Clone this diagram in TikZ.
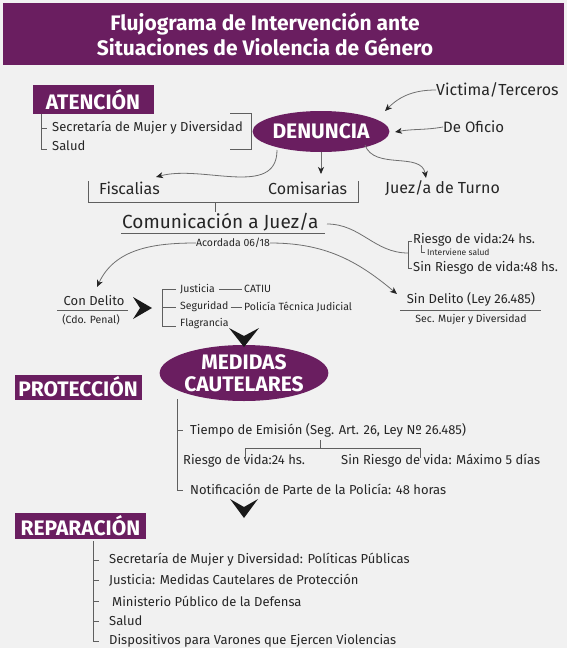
\documentclass[tikz,border=0pt]{standalone}
\usepackage{fontspec}
\setmainfont{Fira Sans}
\usetikzlibrary{arrows.meta,shapes.geometric,calc}
\definecolor{purp}{RGB}{106,30,96}
\definecolor{txt}{RGB}{38,38,38}
\definecolor{ln}{RGB}{95,95,95}
\definecolor{bg}{RGB}{241,241,241}
\begin{document}
\begin{tikzpicture}[x=1pt,y=-1pt,
  lbl/.style={inner sep=0pt, anchor=west, text=txt, font=\fontsize{13}{15}\selectfont},
  big/.style={lbl, font=\fontsize{16}{18}\selectfont},
  small/.style={lbl, font=\fontsize{10.5}{12}\selectfont},
  tag/.style={fill=purp, text=white, inner sep=0pt, font=\bfseries\fontsize{21}{23}\selectfont},
  oval/.style={ellipse, fill=purp, text=white, inner sep=0pt, align=center, font=\bfseries\fontsize{21}{22}\selectfont},
  br/.style={draw=ln, line width=0.9pt},
  conn/.style={draw=ln!90, line width=0.8pt, -{Stealth[length=7pt,width=6pt,inset=2pt,color=black!85]}},
  chev/.style={fill=black!90}
]
\useasboundingbox (0,0) rectangle (567,648);
\fill[bg] (0,0) rectangle (567,648);
% title
\fill[purp] (3,3) rectangle (564,65);
\node[text=white, align=center, font=\bfseries\fontsize{21}{25}\selectfont] (title) at (265,34) {Flujograma de Intervención ante\\Situaciones de Violencia de Género};

% ATENCION
\node[tag, minimum width=121pt, minimum height=29pt] (atn) at (93,99.5) {ATENCIÓN};
\node[lbl] (sec) at (52,128) {Secretaría de Mujer y Diversidad};
\node[lbl] (sal) at (52,146) {Salud};
\draw[br] (41,114) -- (41,149) -- (47,149);
\draw[br] (41,128) -- (47,128);
\draw[br] (230,113) -- (251,113) -- (251,149) -- (230,149);

% DENUNCIA
\node[oval, minimum width=118pt, minimum height=41pt] (den) at (321,131.5) {DENUNCIA};
\node[big] (vict) at (436,90) {Victima/Terceros};
\node[lbl, font=\fontsize{15}{17}\selectfont] (ofi) at (443,127) {De Oficio};
\draw[conn] (vict.west) to[out=180,in=45] (385,111);
\draw[conn] (ofi.west) to[out=190,in=10] (395,132);

\node[big] (fis) at (99,188) {Fiscalias};
\node[big] (com) at (268,188) {Comisarias};
\node[big] (juez) at (385,188) {Juez/a de Turno};
\draw[conn] (277,150) to[out=-90,in=15] (156,177);
\draw[conn] (den.south) -- (321,174);
\draw[conn] (365,145) to[out=-70,in=100] (426,178);

\draw[br] (88,181) -- (88,202) -- (358,202) -- (358,181);
\draw[br] (215,202) -- (215,212);

\node[lbl, font=\fontsize{19}{21}\selectfont] (comu) at (122,222) {Comunicación a Juez/a};
\draw[br] (121,233) -- (325,233);
\node[small, anchor=center] (acor) at (233,243) {Acordada 06/18};

% riesgo
\node[lbl] (r24) at (413,240) {Riesgo de vida:24 hs.};
\node[lbl, font=\fontsize{8.5}{10}\selectfont] (intv) at (427,252) {Interviene salud};
\node[lbl] (r48) at (413,268) {Sin Riesgo de vida:48 hs.};
\draw[br] (412,241) -- (408,241) -- (408,268) -- (412,268);
\draw[br, line width=0.6pt] (421,245) -- (421,252) -- (425,252);
\draw[draw=ln!90, line width=0.8pt] (327,224) to[out=0,in=180] (408,253);

% con delito
\node[lbl, anchor=center] (cond) at (94,301) {Con Delito};
\draw[br] (57,310) -- (128,310);
\node[small, anchor=center] (cdo) at (91,320) {(Cdo. Penal)};
\draw[conn] (acor.west) to[out=180,in=65] (97,287);
\fill[chev] (133,297) -- (152,308) -- (133,319) -- (140,308) -- cycle;
\draw[br] (176,289) -- (162,289) -- (162,326) -- (176,326);
\draw[br] (162,307) -- (176,307);
\node[small] (jus) at (180,289) {Justicia};
\node[small] (catiu) at (244,289) {CATIU};
\node[small] (seg) at (180,307) {Seguridad};
\node[small] (ptj) at (244,307) {Policía Técnica Judicial};
\node[small] (flag) at (180,324) {Flagrancia};
\draw[br] ($(jus.east)+(4,0)$) -- ($(catiu.west)+(-2,0)$);
\draw[br] ($(seg.east)+(2,0)$) -- ($(ptj.west)+(-2,0)$);

% sin delito
\node[lbl, anchor=center] (sind) at (471,299) {Sin Delito (Ley 26.485)};
\draw[br] (400,310) -- (541,310);
\node[small, anchor=center] (secm) at (471,320) {Sec. Mujer y Diversidad};
\draw[conn] (acor.east) to[out=0,in=140] (397,294);

% medidas
\node[oval, minimum width=158pt, minimum height=56pt, font=\bfseries\fontsize{21}{22}\selectfont] (med) at (244,373) {MEDIDAS\\CAUTELARES};
\fill[chev] (229,328) -- (244,336) -- (259,328) -- (244,347) -- cycle;
\node[tag, minimum width=127pt, minimum height=25pt] (prot) at (78,387) {PROTECCIÓN};
\draw[br] (177,399) -- (177,490) -- (183,490);
\draw[br] (177,430) -- (183,430);
\node[lbl] (tiem) at (190,430) {Tiempo de Emisión (Seg. Art. 26, Ley Nº 26.485)};
\draw[br] (320,440) -- (320,448);
\draw[br] (245,458) -- (245,448) -- (420,448) -- (420,458);
\node[lbl] (rv24) at (183,461) {Riesgo de vida:24 hs.};
\node[lbl] (srv) at (341,461) {Sin Riesgo de vida: Máximo 5 días};
\node[lbl] (noti) at (190,489) {Notificación de Parte de la Policía: 48 horas};
\fill[chev] (230,499) -- (244,507) -- (258,499) -- (244,518) -- cycle;

% reparacion
\node[tag, minimum width=131pt, minimum height=26pt] (rep) at (80.5,526) {REPARACIÓN};
\draw[br] (93,541) -- (93,641) -- (99,641);
\foreach \yy in {560,580,601,621} \draw[br] (93,\yy) -- (99,\yy);
\node[lbl] (r1) at (109,560) {Secretaría de Mujer y Diversidad: Políticas Públicas};
\node[lbl] (r2) at (109,580) {Justicia: Medidas Cautelares de Protección};
\node[lbl] (r3) at (112,601) {Ministerio Público de la Defensa};
\node[lbl] (r4) at (109,621) {Salud};
\node[lbl] (r5) at (109,641) {Dispositivos para Varones que Ejercen Violencias};
\end{tikzpicture}
\end{document}
